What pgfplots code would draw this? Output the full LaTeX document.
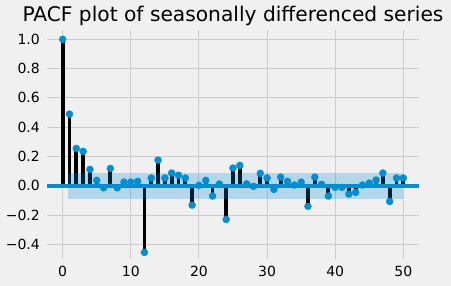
\documentclass[border=0pt]{standalone}
\usepackage{fontspec}
\setmainfont{DejaVu Sans}
\usepackage{pgfplots}
\pgfplotsset{compat=1.18}
\definecolor{cz}{HTML}{008FD5}
\definecolor{bg}{HTML}{F0F0F0}
\definecolor{gridc}{HTML}{CBCBCB}
\begin{document}
\begin{tikzpicture}
\fill[bg, use as bounding box] (-47pt,-26.7pt) rectangle (404pt,259.3pt);
\begin{axis}[
  at={(0pt,0pt)}, anchor=south west,
  scale only axis, width=372pt, height=229.3pt,
  xmin=-2.3, xmax=52.3, ymin=-0.502, ymax=1.0635,
  axis line style={draw=none},
  axis background/.style={fill=bg},
  major tick length=0pt,
  tick style={draw=none},
  grid=major,
  major grid style={gridc, line width=1pt},
  xtick={0,10,20,30,40,50},
  xticklabels={0,10,20,30,40,50},
  ytick={-0.4,-0.2,0,0.2,0.4,0.6,0.8,1.0},
  yticklabels={−0.4,−0.2,0.0,0.2,0.4,0.6,0.8,1.0},
  every tick label/.append style={font=\fontsize{14}{16}\selectfont, text=black},
  yticklabel style={anchor=east, inner sep=0pt, xshift=-7pt},
  xticklabel style={anchor=north, inner sep=0pt, yshift=-6.7pt},
  clip=false,
]
\addplot[ycomb, black, line width=3.8pt, mark=none] coordinates {
(0,1.0) (1,0.489) (2,0.255) (3,0.235) (4,0.112) (5,0.037) (6,-0.014) (7,0.118) (8,-0.014) (9,0.025)
(10,0.025) (11,0.03) (12,-0.455) (13,0.053) (14,0.175) (15,0.053) (16,0.087) (17,0.072) (18,0.053) (19,-0.132)
(20,0.003) (21,0.037) (22,-0.07) (23,0.012) (24,-0.23) (25,0.121) (26,0.139) (27,0.013) (28,-0.004) (29,0.085)
(30,0.053) (31,-0.025) (32,0.059) (33,0.03) (34,0.005) (35,0.025) (36,-0.14) (37,0.059) (38,0.01) (39,-0.07)
(40,-0.011) (41,-0.011) (42,-0.057) (43,-0.045) (44,0.005) (45,0.018) (46,0.039) (47,0.087) (48,-0.107) (49,0.053)
(50,0.053)};
\addplot[draw=none, fill=cz, fill opacity=0.25] coordinates {(0.85,0.09) (50,0.09) (50,-0.09) (0.85,-0.09)} -- cycle;
\addplot[cz, line width=4pt, mark=none] coordinates {(-2.3,0) (52.3,0)};
\addplot[cz, only marks, mark=*, mark size=3.5pt, mark options={fill=cz, draw=none}] coordinates {
(0,1.0) (1,0.489) (2,0.255) (3,0.235) (4,0.112) (5,0.037) (6,-0.014) (7,0.118) (8,-0.014) (9,0.025)
(10,0.025) (11,0.03) (12,-0.455) (13,0.053) (14,0.175) (15,0.053) (16,0.087) (17,0.072) (18,0.053) (19,-0.132)
(20,0.003) (21,0.037) (22,-0.07) (23,0.012) (24,-0.23) (25,0.121) (26,0.139) (27,0.013) (28,-0.004) (29,0.085)
(30,0.053) (31,-0.025) (32,0.059) (33,0.03) (34,0.005) (35,0.025) (36,-0.14) (37,0.059) (38,0.01) (39,-0.07)
(40,-0.011) (41,-0.011) (42,-0.057) (43,-0.045) (44,0.005) (45,0.018) (46,0.039) (47,0.087) (48,-0.107) (49,0.053)
(50,0.053)};
\node[anchor=base, inner sep=0pt, font=\fontsize{20.2}{24}\selectfont, text=black] at (rel axis cs:0.5,1) [yshift=8pt] {PACF plot of seasonally differenced series};
\end{axis}
\end{tikzpicture}
\end{document}
